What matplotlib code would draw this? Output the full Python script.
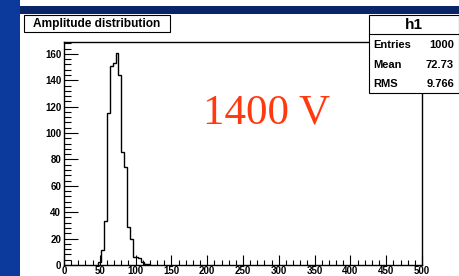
import matplotlib.pyplot as plt
from matplotlib.patches import Rectangle
from matplotlib.ticker import MultipleLocator

# Histogram: bin edges and counts
edges = [48, 52, 56, 60, 64, 68, 72, 76, 80, 84, 88, 92, 96, 100, 104, 108, 112, 116, 120]
counts = [2, 11, 33, 115, 151, 153, 161, 144, 86, 74, 29, 20, 6, 6, 5, 2, 1, 1]

title = "Amplitude distribution"
stat_name = "h1"
stat_labels = ["Entries", "Mean", "RMS"]
stat_values = ["1000", "72.73", "9.766"]
note = "1400 V"

W, H = 459, 276
fig = plt.figure(figsize=(W / 100, H / 100), dpi=100)
fig.patch.set_facecolor("white")


def box(x0, y0, x1, y1, **kw):
    # rectangle in pixel coords (y from top)
    r = Rectangle((x0 / W, 1 - y1 / H), (x1 - x0) / W, (y1 - y0) / H,
                  transform=fig.transFigure, **kw)
    fig.patches.append(r)


# slide background bits
box(0, 0, 20, H, facecolor="#0b3a9c", edgecolor="none")
box(20, 6, W, 13.5, facecolor="#0a2468", edgecolor="none")

ax = fig.add_axes([64 / W, (H - 265) / H, (422 - 64) / W, (265 - 42) / H])
ax.stairs(counts, edges, color="black", lw=1.0)
ax.set_xlim(0, 500)
ax.set_ylim(0, 169)

ax.xaxis.set_major_locator(MultipleLocator(50))
ax.xaxis.set_minor_locator(MultipleLocator(10))
ax.yaxis.set_major_locator(MultipleLocator(20))
ax.yaxis.set_minor_locator(MultipleLocator(4))
ax.tick_params(which="both", direction="in", top=False, right=False, width=0.8)
ax.tick_params(axis="x", which="major", length=7, pad=1)
ax.tick_params(axis="x", which="minor", length=3.5)
ax.tick_params(axis="y", which="major", length=10, pad=2)
ax.tick_params(axis="y", which="minor", length=5)
for lab in ax.get_xticklabels() + ax.get_yticklabels():
    lab.set_fontfamily("Liberation Sans")
    lab.set_fontweight("bold")
    lab.set_fontsize(7)
for s in ax.spines.values():
    s.set_linewidth(1.0)

ax.text(0.387, 0.635, note, transform=ax.transAxes, family="Liberation Serif",
        fontsize=31, color="#ff3a10", ha="left", va="baseline")

# title box
box(24, 15.5, 170, 31.5, facecolor="white", edgecolor="black", lw=0.8)
fig.text(97 / W, 1 - 23.5 / H, title, family="Liberation Sans", fontweight="bold",
         fontsize=8.6, ha="center", va="center")

# stats box
box(369, 15, W - 0.5, 93, facecolor="white", edgecolor="black", lw=0.8, zorder=5)
fig.lines.append(plt.Line2D([369 / W, 1], [1 - 34 / H, 1 - 34 / H],
                            transform=fig.transFigure, color="black", lw=0.8, zorder=6))
fig.text(414 / W, 1 - 24.5 / H, stat_name, family="Liberation Sans", fontweight="bold",
         fontsize=11, ha="center", va="center", zorder=7)
for i, (lab, val) in enumerate(zip(stat_labels, stat_values)):
    y = 1 - (45 + i * 19.7) / H
    fig.text(373 / W, y, lab, family="Liberation Sans", fontweight="bold",
             fontsize=8, ha="left", va="center", zorder=7)
    fig.text(454 / W, y, val, family="Liberation Sans", fontweight="bold",
             fontsize=8, ha="right", va="center", zorder=7)

fig.savefig("out.png", dpi=100)
